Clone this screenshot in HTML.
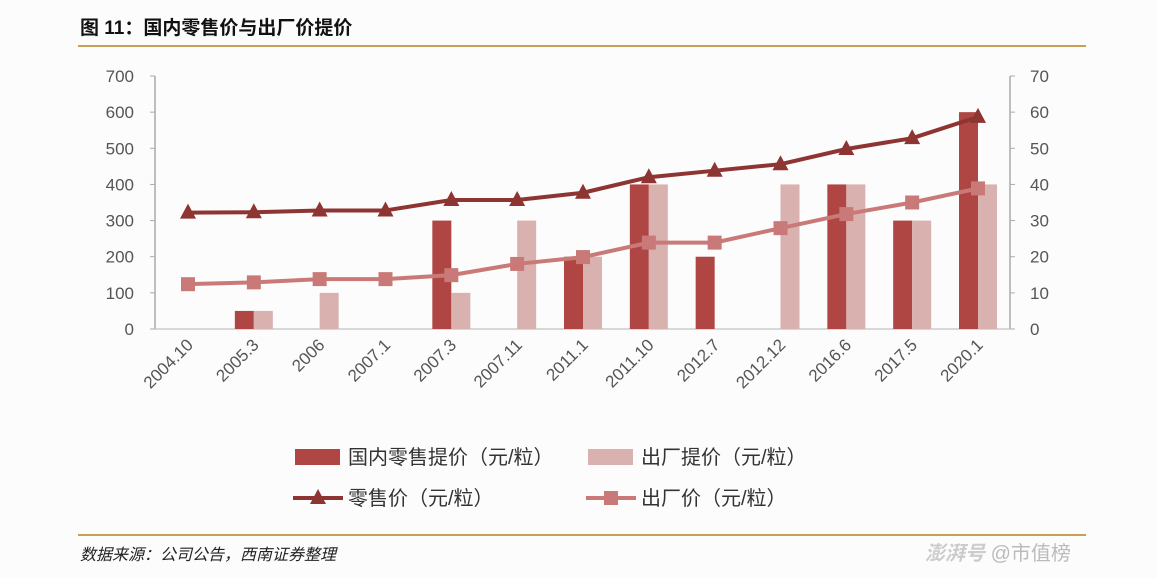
<!DOCTYPE html>
<html><head><meta charset="utf-8"><style>
body{margin:0;background:#fff;width:1157px;height:578px;overflow:hidden;font-family:"Liberation Sans","Noto Sans CJK SC",sans-serif}
</style></head><body>
<svg id="c" width="1157" height="578" xmlns="http://www.w3.org/2000/svg">
<rect width="1157" height="578" fill="#fcfcfc"/>
<text x="80" y="34" font-size="19" font-weight="bold" fill="#111" font-family="Liberation Sans, Noto Sans CJK SC, sans-serif">图 11：国内零售价与出厂价提价</text>
<line x1="78" y1="46" x2="1086" y2="46" stroke="#c9a052" stroke-width="2"/>
<line x1="78" y1="535" x2="1086" y2="535" stroke="#c9a052" stroke-width="2"/>
<text x="80" y="560" font-size="16" font-style="italic" fill="#222" font-family="Liberation Sans, Noto Sans CJK SC, sans-serif">数据来源：公司公告，西南证券整理</text>
<text x="925" y="560" font-size="20" font-style="italic" font-weight="bold" fill="#ccc" font-family="Liberation Sans, Noto Sans CJK SC, sans-serif">澎湃号 <tspan font-style="normal" font-weight="normal" fill="#bbb">@市值榜</tspan></text>
<g id="plot"></g>
</svg>
<script>
const categories=["2004.10","2005.3","2006","2007.1","2007.3","2007.11","2011.1","2011.10","2012.7","2012.12","2016.6","2017.5","2020.1"];
const retailIncrease=[0,50,0,0,300,0,200,400,200,0,400,300,600];
const factoryIncrease=[0,50,100,0,100,300,200,400,0,400,400,300,400];
const retailPrice=[32.2,32.3,32.8,32.8,35.7,35.7,37.7,42,43.8,45.6,49.8,52.8,58.7];
const factoryPrice=[12.4,12.9,13.8,13.8,14.9,18,19.9,23.9,23.9,27.9,31.8,35,38.9];
const leftTicks=[0,100,200,300,400,500,600,700];
const rightTicks=[0,10,20,30,40,50,60,70];

const NS="http://www.w3.org/2000/svg";
const g=document.getElementById('plot');
const X0=155,X1=1010,Y0=329,Y1=76,first=188,last=978;
const xPos=i=>first+(last-first)*i/(categories.length-1);
const yL=v=>Y0-(Y0-Y1)*v/700;
const yR=v=>Y0-(Y0-Y1)*v/70;
function mk(t,a){const e=document.createElementNS(NS,t);for(const k in a)e.setAttribute(k,a[k]);g.appendChild(e);return e;}
const F="Liberation Sans, Noto Sans CJK SC, sans-serif";
// axes
let e=mk('line',{x1:X0,y1:Y1,x2:X0,y2:Y0,stroke:'#aaa','stroke-width':1.5});

e=mk('line',{x1:X1,y1:Y1,x2:X1,y2:Y0,stroke:'#aaa','stroke-width':1.5});

e=mk('line',{x1:X0,y1:Y0,x2:X1,y2:Y0,stroke:'#ccc','stroke-width':1.5});

leftTicks.forEach(v=>{mk('line',{x1:X0-5,y1:yL(v),x2:X0,y2:yL(v),stroke:'#aaa'});
 const t=mk('text',{x:134,y:yL(v)+6,'text-anchor':'end','font-size':17,fill:'#555','font-family':F});t.textContent=v;
 });
rightTicks.forEach(v=>{mk('line',{x1:X1,y1:yR(v),x2:X1+5,y2:yR(v),stroke:'#aaa'});
 const t=mk('text',{x:1030,y:yR(v)+6,'font-size':17,fill:'#555','font-family':F});t.textContent=v;
 });
const BW=19;
categories.forEach((c,i)=>{
 const x=xPos(i);
 if(retailIncrease[i]>0){const r=mk('rect',{x:x-BW,y:yL(retailIncrease[i]),width:BW,height:Y0-yL(retailIncrease[i]),fill:'#b04644'});
  }
 if(factoryIncrease[i]>0){const r=mk('rect',{x:x,y:yL(factoryIncrease[i]),width:BW,height:Y0-yL(factoryIncrease[i]),fill:'#d9b1af'});
  }
 const t=mk('text',{x:x+6,y:346,'text-anchor':'end','font-size':17,fill:'#555','font-family':F,transform:`rotate(-45 ${x+6} 346)`});
 t.textContent=c;
});
function line(arr,color,name){
 const p=mk('polyline',{points:arr.map((v,i)=>xPos(i)+','+yR(v)).join(' '),fill:'none',stroke:color,'stroke-width':4,'stroke-linejoin':'round'});
 
}
line(factoryPrice,'#c97a78','factory-price-line');
factoryPrice.forEach((v,i)=>{const r=mk('rect',{x:xPos(i)-7,y:yR(v)-7,width:14,height:14,fill:'#c97a78'});
 });
line(retailPrice,'#8e3432','retail-price-line');
retailPrice.forEach((v,i)=>{const x=xPos(i),y=yR(v);const r=mk('polygon',{points:`${x},${y-9} ${x-8},${y+6} ${x+8},${y+6}`,fill:'#8e3432'});
 });
// legend
function legText(x,y,s,n){const t=mk('text',{x:x,y:y,'font-size':20,fill:'#333','font-family':F});t.textContent=s;
 }
e=mk('rect',{x:295,y:449,width:45,height:16,fill:'#b04644'});
legText(348,464,'国内零售提价（元/粒）','legend-retail-increase');
e=mk('rect',{x:588,y:449,width:45,height:16,fill:'#d9b1af'});
legText(641,464,'出厂提价（元/粒）','legend-factory-increase');
mk('line',{x1:293,y1:498,x2:343,y2:498,stroke:'#8e3432','stroke-width':4});
e=mk('polygon',{points:'318,489 310,504 326,504',fill:'#8e3432'});
legText(348,505,'零售价（元/粒）','legend-retail-price');
mk('line',{x1:586,y1:498,x2:636,y2:498,stroke:'#c97a78','stroke-width':4});
e=mk('rect',{x:604,y:491,width:14,height:14,fill:'#c97a78'});
legText(641,505,'出厂价（元/粒）','legend-factory-price');
</script>
</body></html>
